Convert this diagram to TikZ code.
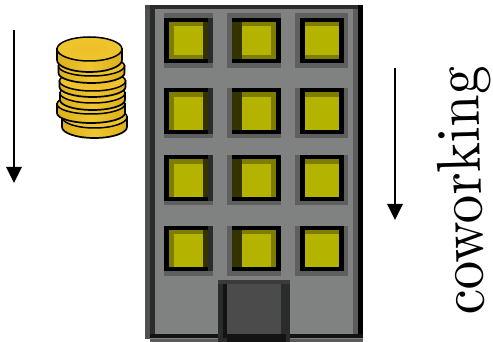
\documentclass[tikz,border=0pt]{standalone}
\usetikzlibrary{arrows.meta}
\definecolor{wall}{HTML}{808281}
\definecolor{bandA}{HTML}{505050}
\definecolor{bandB}{HTML}{2A2C2B}
\definecolor{bandC}{HTML}{5C5C5C}
\definecolor{winshade}{HTML}{5E5F5E}
\definecolor{glass}{HTML}{B4B300}
\definecolor{olive}{HTML}{7E7D00}
\definecolor{darkolive}{HTML}{343300}
\definecolor{doorf}{HTML}{4B4B4B}
\definecolor{coin}{HTML}{EEC62E}
\definecolor{coinedge}{HTML}{DDB01C}
\tikzset{
  x=1pt,y=-1pt,
  flow/.style={line width=1.8pt,black,-{Triangle[length=16pt,width=15.5pt]}},
  coinbody/.style={draw=black,line width=1.7pt,left color=coinedge,right color=coinedge,middle color=coin},
  cointop/.style={draw=black,line width=1.5pt,inner color=coin!88!orange,outer color=coin},
}
\newcommand{\winbox}[8]{%
  \fill[winshade] (#1,\ysa) rectangle (#8,\ysb);
  \fill[black] (#2,\yfa) rectangle (#7,\yfb);
  \fill[olive] (#3,\yga) rectangle (#6,\ygb);
  \fill[glass] (#4,\yha) rectangle (#5,\yhb);
}
\newcommand{\winrow}[8]{%
  \def\ysa{#1}\def\yfa{#2}\def\yga{#3}\def\yha{#4}\def\yhb{#5}\def\ygb{#6}\def\yfb{#7}\def\ysb{#8}%
  \winbox{164}{164}{169}{174}{203}{208}{208}{213}
  \fill[bandB] (208,\yfa) rectangle (213,\yfb);
  \fill[darkolive] (203,\yga) rectangle (208,\ygb);
  \winbox{227}{232}{232}{242}{271}{276}{281}{281}
  \fill[darkolive] (232,\yga) rectangle (242,\ygb);
  \winbox{295}{300}{305}{305}{339}{339}{344}{348}
}
\newcommand{\coinstack}[5]{% cx, cy, rx, ry, h
  \path[coinbody] (#1-#3,#2) -- (#1-#3,#2+#5) arc[start angle=180,end angle=360,x radius=#3,y radius=-#4] -- (#1+#3,#2) -- cycle;
  \path[cointop] (#1,#2) ellipse[x radius=#3,y radius=#4];
}
\begin{document}
\begin{tikzpicture}
\useasboundingbox (0,0) rectangle (493,342);
\fill[white] (0,0) rectangle (493,342);
% building
\fill[bandC] (150,338) rectangle (363,342);
\fill[wall] (145,5) rectangle (363,339);
\fill[bandA] (145,5) rectangle (150,339);
\fill[black!45!wall] (145,5) rectangle (150,9);
\fill[bandB] (150,5) rectangle (155,338);
\fill[bandB] (150,5) rectangle (363,9);
\fill[bandC] (353,9) rectangle (358,338);
\fill[black] (358,5) rectangle (363,338);
\fill[black!85!wall] (150,334) rectangle (363,338);
% windows
\winrow{13}{18}{22}{26}{55}{59}{63}{68}
\winrow{88}{88}{92}{97}{130}{130}{134}{138}
\winrow{155}{155}{159}{164}{197}{197}{201}{205}
\winrow{226}{226}{230}{234}{267}{267}{271}{276}
% door
\fill[bandB] (218,284) rectangle (290,342);
\fill[black!55!wall] (218,280) rectangle (290,284);
\fill[doorf] (227,284) rectangle (281,334);
\fill[black!85!wall] (223,284) rectangle (227,338);
\fill[black!85!wall] (227,334) rectangle (286,342);
% coins
\coinstack{94.5}{117}{32.5}{11}{10}
\coinstack{91}{104}{34}{10}{9}
\coinstack{92.5}{93}{32.5}{10}{7}
\coinstack{92.5}{81}{33}{10}{6}
\coinstack{91.5}{66}{33}{10}{7}
\coinstack{89.5}{49}{32.5}{12}{11}
% arrows
\coordinate (a1) at (14,30);
\coordinate (a2) at (14,183);
\coordinate (b1) at (395,68);
\coordinate (b2) at (395,220);
\draw[flow] (a1) -- (a2);
\draw[flow] (b1) -- (b2);
% label
\node[rotate=91.5,anchor=base west,inner sep=0pt,xscale=5.7,yscale=6.2] (lab) at (484.5,316) {coworking};
\end{tikzpicture}
\end{document}
